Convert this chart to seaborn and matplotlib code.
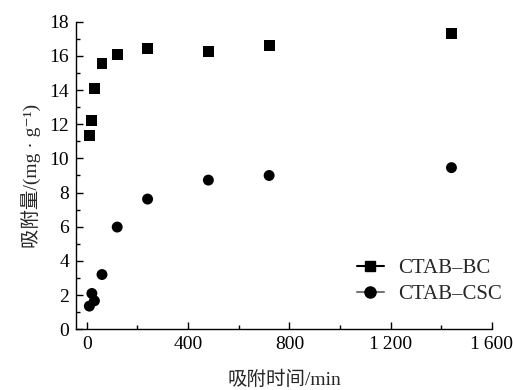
import matplotlib
matplotlib.use("Agg")
import matplotlib.pyplot as plt
from matplotlib.lines import Line2D
from matplotlib.ticker import MultipleLocator, FixedLocator, FixedFormatter
import seaborn as sns
import pandas as pd

# Adsorption kinetics data
time_min = [10, 20, 30, 60, 120, 240, 480, 720, 1440]
ctab_bc = [11.37, 12.21, 14.11, 15.55, 16.06, 16.45, 16.26, 16.61, 17.33]
ctab_csc = [1.35, 2.09, 1.66, 3.20, 5.98, 7.62, 8.73, 9.00, 9.46]
series_names = ["CTAB\u2013BC", "CTAB\u2013CSC"]

x_ticks = [0, 400, 800, 1200, 1600]
x_tick_labels = ["0", "400", "800", "1\u2009200", "1\u2009600"]
y_ticks = [0, 2, 4, 6, 8, 10, 12, 14, 16, 18]

sns.set_style("ticks")
plt.rcParams["font.family"] = ["Liberation Serif", "Noto Sans CJK SC", "DejaVu Serif"]

df = pd.DataFrame({
    "t": time_min * 2,
    "q": ctab_bc + ctab_csc,
    "sample": [series_names[0]] * len(time_min) + [series_names[1]] * len(time_min),
})

fig = plt.figure(figsize=(5.13, 3.9), dpi=100)
ax = fig.add_axes([0.148, 0.156, 0.811, 0.788])

sns.scatterplot(data=df, x="t", y="q", hue="sample", style="sample",
                markers={series_names[0]: "s", series_names[1]: "o"},
                palette={series_names[0]: "black", series_names[1]: "black"},
                s=62, linewidth=0, legend=False, ax=ax, zorder=3)

ax.set_xlim(-43, 1600)
ax.set_ylim(0, 18)
ax.xaxis.set_major_locator(FixedLocator(x_ticks))
ax.xaxis.set_major_formatter(FixedFormatter(x_tick_labels))
ax.xaxis.set_minor_locator(MultipleLocator(200))
ax.yaxis.set_major_locator(FixedLocator(y_ticks))
ax.yaxis.set_minor_locator(MultipleLocator(1))

ax.tick_params(which="both", direction="in", width=1, colors="black", labelsize=14)
ax.tick_params(which="major", length=5, pad=5)
ax.tick_params(which="minor", length=3)
for side in ["top", "right"]:
    ax.spines[side].set_visible(False)
for side in ["left", "bottom"]:
    ax.spines[side].set_linewidth(1)
    ax.spines[side].set_color("black")

ax.set_xlabel("吸附时间/min", fontsize=14, labelpad=13)
ax.set_ylabel("吸附量/(mg · g\u207b\u00b9)", fontsize=14, labelpad=6)

handles = [
    Line2D([], [], color="black", marker="s", markersize=7, linewidth=1.5),
    Line2D([], [], color="#777777", marker="o", markerfacecolor="black",
           markeredgecolor="black", markersize=8, linewidth=1.5),
]
ax.legend(handles, series_names, loc="lower right", bbox_to_anchor=(1.07, 0.02),
          frameon=False, fontsize=15, handlelength=1.3, handletextpad=0.7,
          labelspacing=0.3)

fig.savefig("out.png", dpi=100)
